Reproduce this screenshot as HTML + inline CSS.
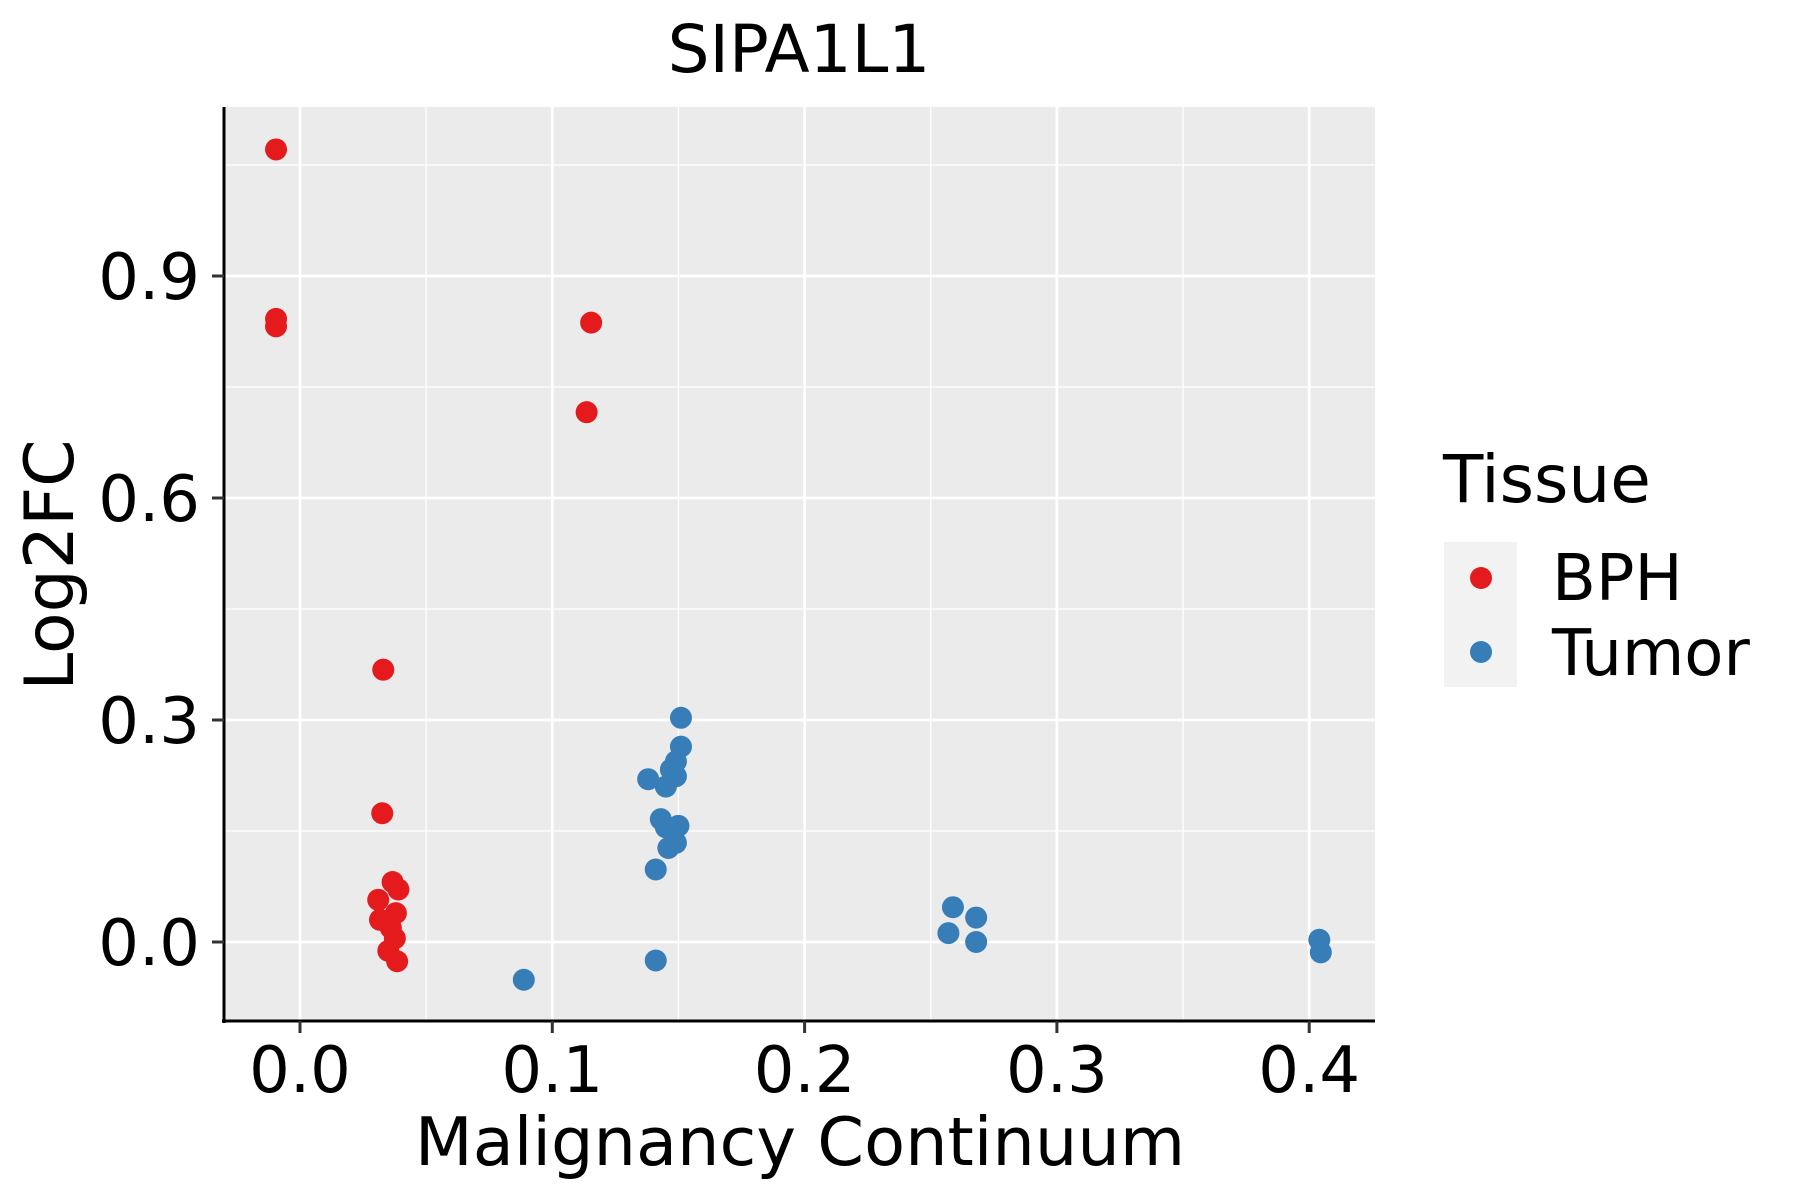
<!DOCTYPE html>
<html><head><meta charset="utf-8"><style>
html,body{margin:0;padding:0;background:#fff;}
svg{display:block;font-family:"DejaVu Sans","Liberation Sans",sans-serif;}
</style></head><body>
<svg id="chart" width="1800" height="1200" viewBox="0 0 1800 1200" xmlns="http://www.w3.org/2000/svg">
<text x="799" y="72" font-size="66" text-anchor="middle">SIPA1L1</text>
<rect x="224" y="107" width="1151" height="914" fill="#ebebeb"/>
<g id="grid"></g>
<g id="points"></g>
<line x1="224" y1="107" x2="224" y2="1023" stroke="#000" stroke-width="3"/>
<line x1="222" y1="1021" x2="1375" y2="1021" stroke="#000" stroke-width="3"/>
<g id="ticks"></g>
<text x="800" y="1165" font-size="67" text-anchor="middle">Malignancy Continuum</text>
<text transform="translate(73,565) rotate(-90)" font-size="68" text-anchor="middle">Log2FC</text>
<g>
<text x="1443" y="502" font-size="66">Tissue</text>
<rect x="1444" y="542" width="73" height="145" fill="#f2f2f2"/>
<circle cx="1481" cy="578" r="11" fill="#e41a1c"/>
<circle cx="1481" cy="652" r="11" fill="#377eb8"/>
<text x="1552" y="600" font-size="64">BPH</text>
<text x="1552" y="675" font-size="64">Tumor</text>
</g>
</svg>
<script>
const bphX=[-0.0095,-0.0095,-0.0095,0.1154,0.1136,0.033,0.0326,0.0367,0.039,0.031,0.038,0.0317,0.036,0.0376,0.035,0.0385];
const bphY=[1.071,0.842,0.832,0.837,0.716,0.368,0.174,0.081,0.071,0.057,0.039,0.030,0.019,0.005,-0.012,-0.026];
const tumX=[0.151,0.151,0.149,0.147,0.138,0.149,0.145,0.143,0.150,0.145,0.149,0.146,0.141,0.141,0.0887,0.2588,0.268,0.257,0.268,0.404,0.4046];
const tumY=[0.303,0.264,0.244,0.233,0.220,0.224,0.210,0.166,0.157,0.155,0.134,0.127,0.098,-0.025,-0.051,0.047,0.033,0.012,0.000,0.003,-0.014];
const xTicks=[0,0.1,0.2,0.3,0.4];
const xTickLabels=["0.0","0.1","0.2","0.3","0.4"];
const yTicks=[0,0.3,0.6,0.9];
const yTickLabels=["0.0","0.3","0.6","0.9"];
const xMinor=[0.05,0.15,0.25,0.35];
const yMinor=[0.15,0.45,0.75,1.05];
const NS="http://www.w3.org/2000/svg";
const sx=v=>300+v*2523;
const sy=v=>942-v*740;
function mk(tag,attrs,parent){const e=document.createElementNS(NS,tag);for(const k in attrs)e.setAttribute(k,attrs[k]);parent.appendChild(e);return e;}
const grid=document.getElementById('grid'),pts=document.getElementById('points'),ticks=document.getElementById('ticks');
xMinor.forEach(v=>{const l=mk('line',{x1:sx(v),x2:sx(v),y1:107,y2:1021,stroke:'#fff','stroke-width':1.3},grid);

});
yMinor.forEach(v=>{const l=mk('line',{x1:224,x2:1375,y1:sy(v),y2:sy(v),stroke:'#fff','stroke-width':1.3},grid);

});
xTicks.forEach((v,i)=>{const l=mk('line',{x1:sx(v),x2:sx(v),y1:107,y2:1021,stroke:'#fff','stroke-width':2.7},grid);


const t=mk('line',{x1:sx(v),x2:sx(v),y1:1021,y2:1033,stroke:'#333','stroke-width':3},ticks);


const tx=mk('text',{x:sx(v),y:1092,'font-size':64,'text-anchor':'middle',fill:'#000'},ticks);tx.textContent=xTickLabels[i];

});
yTicks.forEach((v,i)=>{const l=mk('line',{x1:224,x2:1375,y1:sy(v),y2:sy(v),stroke:'#fff','stroke-width':2.7},grid);


const t=mk('line',{x1:212,x2:224,y1:sy(v),y2:sy(v),stroke:'#333','stroke-width':3},ticks);


const tx=mk('text',{x:200,y:sy(v)+23,'font-size':64,'text-anchor':'end',fill:'#000'},ticks);tx.textContent=yTickLabels[i];

});
bphX.forEach((v,i)=>{const c=mk('circle',{cx:sx(v),cy:sy(bphY[i]),r:11,fill:'#e41a1c'},pts);

});
tumX.forEach((v,i)=>{const c=mk('circle',{cx:sx(v),cy:sy(tumY[i]),r:11,fill:'#377eb8'},pts);

});
</script>
</body></html>
